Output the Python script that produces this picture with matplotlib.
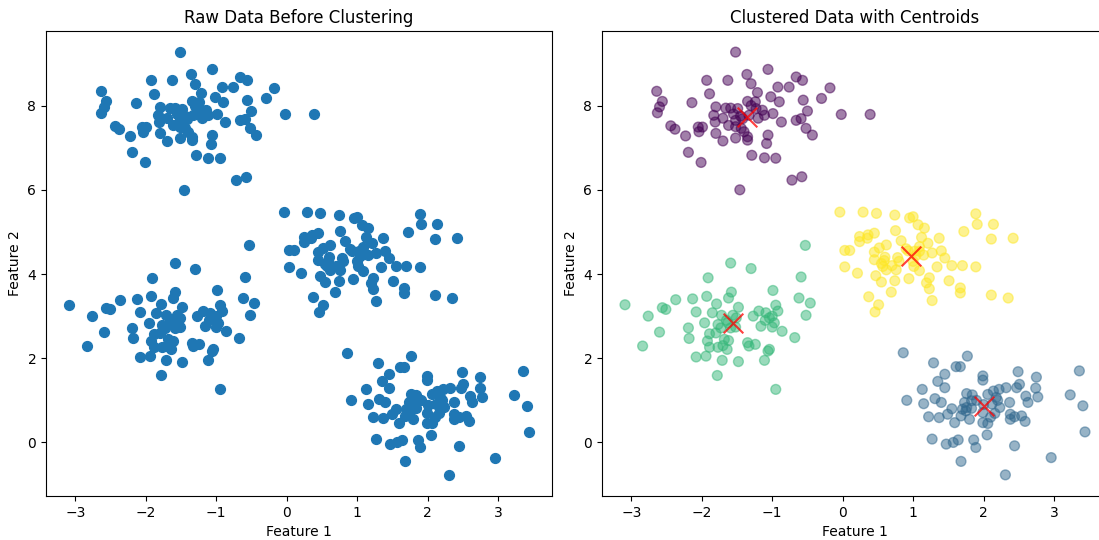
import numpy as np
import matplotlib as mpl
import matplotlib.pyplot as plt

# points, grouped by cluster
top_x = [-1.52, -1.06, -1.93, -1.63, -1.36, -1.30, -2.64, -2.56, -2.60, -2.63,
         -2.14, -1.89, -0.66, -0.57, -0.92, -0.76, -0.18, -0.30, -1.21, -1.02,
         -0.90, -1.35, -1.24, -0.56, -1.80, -1.66, -1.59, -1.49, -1.23, -1.14,
         -0.99, -1.11, -1.33, -1.42, -1.52, -1.83, -1.81, -1.62, -0.50, -0.59,
         -0.66, -0.87, -0.02, 0.39, -2.44, -2.38, -2.05, -1.99, -2.04, -2.23,
         -1.80, -1.52, -1.44, -1.40, -1.35, -1.35, -1.52, -1.70, -1.06, -1.08,
         -0.52, -0.43, -2.19, -2.01, -1.29, -1.11, -0.95, -0.72, -0.58, -1.46,
         -1.45, -1.30, -1.55, -1.20, -1.70]
top_y = [9.27, 8.86, 8.60, 8.60, 8.74, 8.52, 8.34, 8.10, 7.97, 7.83,
         8.07, 8.28, 8.68, 8.60, 8.44, 8.44, 8.42, 8.17, 8.31, 8.21,
         8.09, 8.10, 8.09, 8.13, 7.97, 7.94, 7.94, 7.93, 7.93, 7.89,
         7.81, 7.77, 7.77, 7.69, 7.65, 7.77, 7.61, 7.53, 7.87, 7.69,
         7.65, 7.61, 7.79, 7.79, 7.52, 7.44, 7.49, 7.49, 7.38, 7.28,
         7.34, 7.50, 7.46, 7.38, 7.26, 7.18, 7.23, 7.16, 7.30, 7.10,
         7.46, 7.30, 6.89, 6.65, 6.82, 6.76, 6.75, 6.23, 6.31, 6.00,
         7.75, 8.00, 7.80, 7.70, 7.70]

left_x = [-0.53, -1.59, -1.30, -1.91, -0.59, -0.99, -1.58, -1.62, -3.09, -2.37,
          -2.13, -1.93, -2.56, -2.51, -2.76, -2.08, -1.79, -1.48, -1.85, -1.72,
          -1.56, -1.51, -1.96, -1.77, -1.63, -1.52, -2.19, -2.60, -2.18, -1.89,
          -1.92, -1.68, -1.62, -1.89, -1.77, -1.64, -1.94, -2.08, -1.71, -1.48,
          -1.78, -2.84, -1.27, -1.19, -1.09, -0.95, -0.92, -1.04, -0.97, -1.16,
          -1.00, -0.86, -0.68, -0.62, -0.46, -0.52, -1.35, -1.24, -1.33, -1.04,
          -1.06, -1.11, -0.95, -1.73, -1.59, -1.80, -1.65, -1.00, -1.10, -1.70]
left_y = [4.68, 4.26, 4.13, 3.91, 3.93, 3.61, 3.57, 3.43, 3.27, 3.39,
          3.41, 3.47, 3.20, 3.16, 3.00, 3.10, 3.29, 3.21, 3.08, 3.02,
          3.02, 2.96, 2.84, 2.80, 2.84, 2.74, 2.72, 2.62, 2.47, 2.58,
          2.41, 2.45, 2.42, 2.26, 2.26, 2.21, 2.05, 2.03, 1.95, 1.92,
          1.59, 2.29, 3.00, 3.12, 3.08, 3.26, 3.12, 2.96, 2.84, 2.76,
          2.74, 2.64, 2.49, 3.43, 3.31, 3.02, 2.37, 2.33, 2.29, 2.21,
          2.17, 1.95, 1.26, 2.72, 2.72, 2.60, 2.90, 3.00, 2.90, 2.30]

mid_x = [-0.04, 0.29, 0.48, 0.74, 0.95, 1.00, 1.07, 1.16, 1.89, 1.91,
         2.14, 1.72, 2.11, 2.42, 0.75, 0.24, 0.36, 0.45, 0.24, 0.83,
         1.12, 1.21, 1.09, 1.37, 0.03, 0.10, 0.62, 0.52, 0.45, 0.93,
         1.02, 1.09, 1.04, 1.27, 1.40, 1.45, 0.45, 0.59, 0.78, 0.80,
         0.03, 0.21, 0.57, 0.62, 0.76, 1.01, 1.09, 1.34, 1.55, 1.70,
         1.89, 0.47, 0.55, 0.74, 0.94, 1.23, 1.19, 1.23, 1.51, 1.67,
         1.67, 0.69, 0.37, 0.51, 0.46, 1.27, 2.11, 2.35, 0.60, 0.70,
         1.15, 0.35, 0.90, 0.55, 1.00]
mid_y = [5.47, 5.47, 5.44, 5.40, 5.33, 5.36, 5.17, 5.09, 5.43, 5.18,
         5.18, 5.01, 4.83, 4.85, 5.03, 4.89, 4.93, 4.97, 4.77, 4.79,
         4.87, 4.73, 4.65, 4.85, 4.56, 4.56, 4.69, 4.62, 4.52, 4.55,
         4.54, 4.54, 4.44, 4.50, 4.55, 4.38, 4.34, 4.32, 4.39, 4.30,
         4.17, 4.02, 4.18, 4.10, 4.10, 4.18, 4.08, 4.17, 4.20, 4.20,
         4.17, 3.96, 3.81, 3.84, 3.89, 3.91, 3.79, 3.65, 3.84, 3.67,
         3.55, 3.57, 3.46, 3.27, 3.10, 3.37, 3.50, 3.43, 4.40, 4.20,
         4.45, 4.85, 4.60, 4.25, 4.30]

low_x = [0.86, 1.29, 1.77, 1.61, 1.67, 1.45, 1.99, 1.99, 2.49, 2.75,
         3.36, 1.35, 1.45, 1.13, 0.91, 1.15, 1.31, 1.40, 1.76, 1.84,
         1.83, 1.73, 2.14, 2.22, 2.32, 2.51, 2.47, 2.06, 2.18, 2.12,
         2.37, 2.23, 2.60, 2.63, 2.74, 2.77, 3.23, 3.41, 3.44, 1.22,
         1.37, 1.49, 1.59, 1.68, 1.76, 1.70, 1.83, 1.99, 1.99, 2.06,
         2.16, 2.38, 2.44, 2.54, 2.59, 2.38, 1.27, 1.47, 1.57, 1.64,
         1.86, 1.89, 2.05, 2.44, 1.68, 2.31, 2.96, 1.75, 2.00, 1.90,
         2.20, 1.55, 2.10, 1.80]
low_y = [2.13, 1.89, 2.05, 1.80, 1.80, 1.62, 1.58, 1.48, 1.68, 1.55,
         1.70, 1.45, 1.30, 1.26, 1.00, 0.92, 1.04, 0.95, 1.16, 1.13,
         0.99, 0.95, 1.22, 1.26, 1.30, 1.38, 1.30, 1.14, 1.07, 0.91,
         0.95, 0.83, 1.10, 0.95, 1.29, 1.08, 1.13, 0.87, 0.25, 0.61,
         0.59, 0.67, 0.47, 0.63, 0.83, 0.79, 0.81, 0.71, 0.47, 0.45,
         0.69, 0.55, 0.61, 0.63, 0.50, 0.67, 0.08, -0.04, 0.00, 0.06,
         0.06, -0.12, 0.18, -0.08, -0.45, -0.77, -0.36, 0.75, 0.90, 1.00,
         1.00, 0.80, 0.60, 0.55]

# kmeans label of each group (viridis order)
groups = [(top_x, top_y, 0), (low_x, low_y, 1), (left_x, left_y, 2), (mid_x, mid_y, 3)]

X = np.concatenate([np.array(g[0]) for g in groups])
Y = np.concatenate([np.array(g[1]) for g in groups])
labels = np.concatenate([np.full(len(g[0]), g[2]) for g in groups])
cent_x = [np.mean(g[0]) for g in groups]
cent_y = [np.mean(g[1]) for g in groups]

fig = plt.figure(figsize=(10.99, 5.4), dpi=100)
ax1 = fig.add_axes([46/1099, 44/540, 506/1099, 465/540])
ax2 = fig.add_axes([602/1099, 44/540, 506/1099, 465/540])

ax1.scatter(X, Y, s=50)
ax1.set_title('Raw Data Before Clustering')
ax1.set_xlabel('Feature 1')
ax1.set_ylabel('Feature 2')

ax2.scatter(X, Y, c=labels, s=50, cmap='viridis', alpha=0.5)
ax2.scatter(cent_x, cent_y, c='red', s=200, alpha=0.75, marker='x')
ax2.set_title('Clustered Data with Centroids')
ax2.set_xlabel('Feature 1')
ax2.set_ylabel('Feature 2')

plt.savefig('out.png', dpi=100)
